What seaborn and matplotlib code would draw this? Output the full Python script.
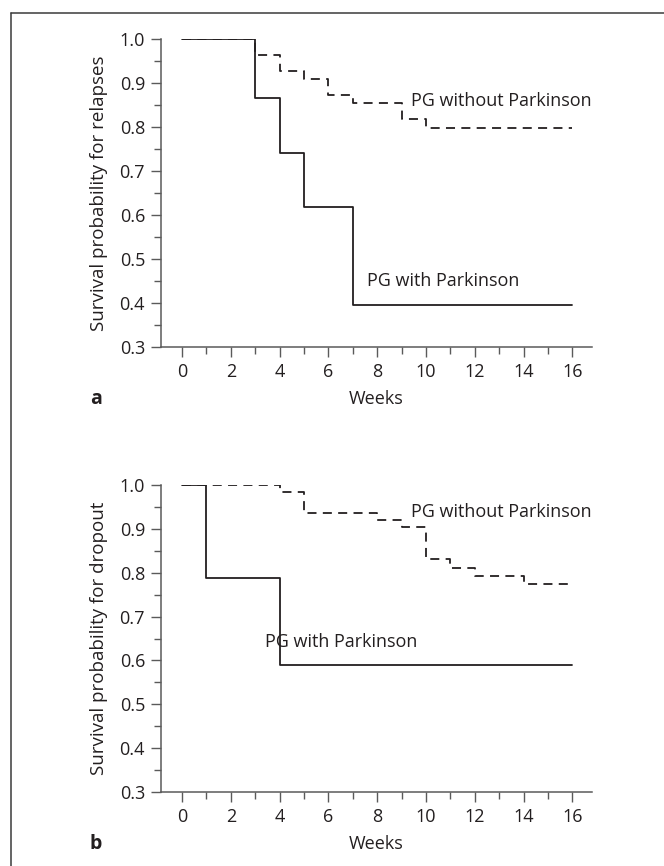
import matplotlib
matplotlib.use("Agg")
import matplotlib.pyplot as plt
from matplotlib.lines import Line2D
from matplotlib.ticker import MultipleLocator
import seaborn as sns
import pandas as pd

# ---- data ----
relapse_with_weeks = [0, 3, 4, 5, 7, 16]
relapse_with_surv = [1.0, 0.866, 0.742, 0.618, 0.396, 0.396]
relapse_without_weeks = [0, 3, 4, 5, 6, 7, 9, 10, 16]
relapse_without_surv = [1.0, 0.964, 0.927, 0.909, 0.873, 0.855, 0.818, 0.798, 0.798]

dropout_with_weeks = [0, 1, 4, 16]
dropout_with_surv = [1.0, 0.787, 0.59, 0.59]
dropout_without_weeks = [0, 4, 5, 8, 9, 10, 11, 12, 14, 16]
dropout_without_surv = [1.0, 0.984, 0.936, 0.92, 0.904, 0.831, 0.811, 0.793, 0.775, 0.775]

label_with = "PG with Parkinson"
label_without = "PG without Parkinson"
ylabel_a = "Survival probability for relapses"
ylabel_b = "Survival probability for dropout"
xlabel = "Weeks"
y_ticks = [0.3, 0.4, 0.5, 0.6, 0.7, 0.8, 0.9, 1.0]
x_ticks = [0, 2, 4, 6, 8, 10, 12, 14, 16]

sns.set_theme(style="white")
plt.rcParams["font.family"] = ["Open Sans", "DejaVu Sans"]

W, H = 664, 866
fig = plt.figure(figsize=(W / 100, H / 100), dpi=100)

TXT = "#231f20"
SPINE = "#5a5a5a"
FS = 13


def px_ax(left, top, right, bottom):
    return fig.add_axes([left / W, 1 - bottom / H, (right - left) / W, (bottom - top) / H])


def draw_panel(ax, w_weeks, w_surv, wo_weeks, wo_surv, ylab, txt_with, txt_without):
    df_w = pd.DataFrame({"week": w_weeks, "surv": w_surv})
    df_wo = pd.DataFrame({"week": wo_weeks, "surv": wo_surv})
    sns.lineplot(data=df_w, x="week", y="surv", ax=ax, drawstyle="steps-post",
                 color=TXT, lw=1.3, estimator=None, sort=False)
    sns.lineplot(data=df_wo, x="week", y="surv", ax=ax, drawstyle="steps-post",
                 color=TXT, lw=1.3, estimator=None, sort=False,
                 linestyle=(0, (5, 3.5)))
    ax.set_xlim(-0.86, 16.8)
    ax.set_ylim(0.3, 1.0)
    ax.set_xticks(x_ticks)
    ax.set_xticklabels([str(t) for t in x_ticks])
    ax.set_yticks(y_ticks)
    ax.set_yticklabels([f"{t:.1f}" for t in y_ticks])
    ax.xaxis.set_minor_locator(MultipleLocator(1))
    ax.yaxis.set_minor_locator(MultipleLocator(0.05))
    for s in ["top", "right"]:
        ax.spines[s].set_visible(False)
    for s in ["left", "bottom"]:
        ax.spines[s].set_color(SPINE)
        ax.spines[s].set_linewidth(1.1)
    ax.tick_params(axis="both", which="major", direction="out", length=7, width=1.0,
                   color=SPINE, labelcolor=TXT, labelsize=FS, pad=4.5,
                   bottom=True, left=True)
    ax.tick_params(axis="both", which="minor", direction="out", length=5, width=1.0,
                   color=SPINE, bottom=True, left=True)
    ax.set_xlabel(xlabel, fontsize=FS, color=TXT)
    ax.xaxis.set_label_coords(0.5, -0.168)
    ax.xaxis.label.set_va("center")
    ax.set_ylabel(ylab, fontsize=13.5, color=TXT, va="center")
    ax.yaxis.set_label_coords((99 - 161) / 431, 0.5)
    ax.text(txt_with[0], txt_with[1], label_with, fontsize=FS, color=TXT,
            ha="left", va="center")
    ax.text(txt_without[0], txt_without[1], label_without, fontsize=FS, color=TXT,
            ha="left", va="center")
    ax.set_facecolor("white")


ax_a = px_ax(161, 39, 592, 347)
draw_panel(ax_a, relapse_with_weeks, relapse_with_surv,
           relapse_without_weeks, relapse_without_surv, ylabel_a,
           (7.6, 0.45), (9.4, 0.86))
ax_a.text((96 - 161) / 431, -0.168, "a", transform=ax_a.transAxes, fontsize=14,
          fontweight="bold", color=TXT, ha="center", va="center")

ax_b = px_ax(161, 485, 592, 792)
draw_panel(ax_b, dropout_with_weeks, dropout_with_surv,
           dropout_without_weeks, dropout_without_surv, ylabel_b,
           (3.4, 0.643), (9.4, 0.938))
ax_b.text((96 - 161) / 431, -0.168, "b", transform=ax_b.transAxes, fontsize=14,
          fontweight="bold", color=TXT, ha="center", va="center")

# outer frame (top and left edges)
fig.add_artist(Line2D([11 / W, 11 / W], [0, 1 - 13 / H], transform=fig.transFigure,
                      color="#3a3a3a", lw=1.1))
fig.add_artist(Line2D([11 / W, 1], [1 - 13 / H, 1 - 13 / H], transform=fig.transFigure,
                      color="#3a3a3a", lw=1.1))

fig.savefig("out.png", dpi=100, facecolor="white")
